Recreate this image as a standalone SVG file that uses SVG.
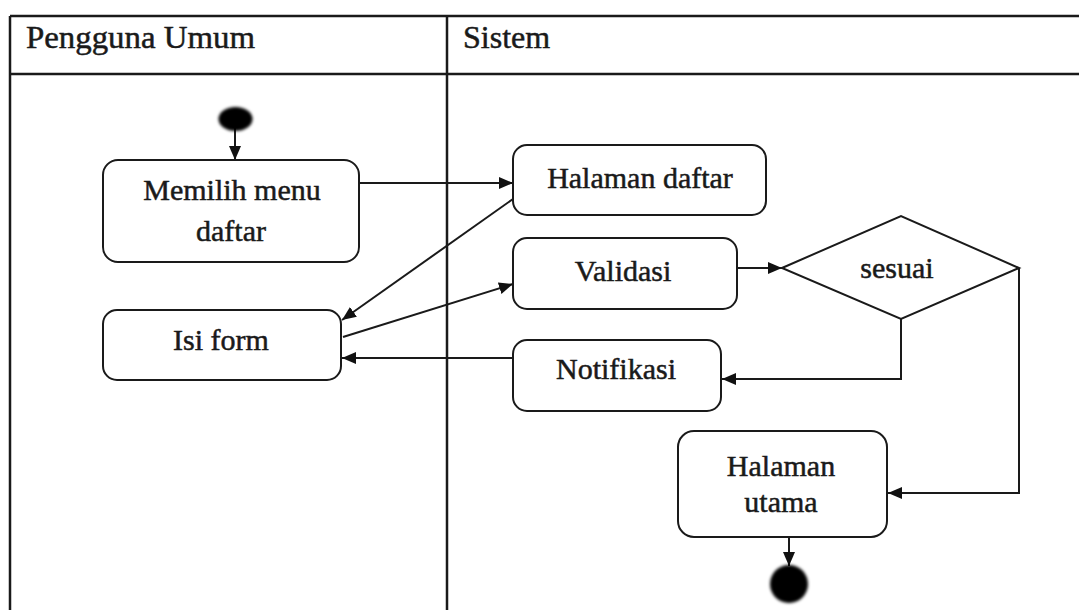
<svg xmlns="http://www.w3.org/2000/svg" width="1079" height="610" viewBox="0 0 1079 610">
<style>
.lane{stroke:#1a1a1a;stroke-width:2.5;fill:none}
.node{fill:#fff;stroke:#1a1a1a;stroke-width:2}
.t{font-family:"Liberation Serif","Times New Roman",serif;font-size:30px;fill:#1a1a1a;stroke:#1a1a1a;stroke-width:0.5;text-anchor:middle}
.h{font-family:"Liberation Serif","Times New Roman",serif;font-size:32px;fill:#1a1a1a;stroke:#1a1a1a;stroke-width:0.5}
.c{stroke:#1a1a1a;stroke-width:2;fill:none;marker-end:url(#ah)}
</style>
<defs>
<marker id="ah" markerUnits="userSpaceOnUse" markerWidth="14" markerHeight="12" refX="14" refY="6" orient="auto">
<path d="M0,0 L14,6 L0,12 z" fill="#111"/>
</marker>
<filter id="blur" x="-50%" y="-50%" width="200%" height="200%">
<feGaussianBlur stdDeviation="1.6"/>
</filter>
</defs>
<rect width="1079" height="610" fill="#fff"/>
<g id="swimlanes">
<line class="lane" x1="10" y1="16" x2="1079" y2="16"/>
<line class="lane" x1="10" y1="74" x2="1079" y2="74"/>
<line class="lane" x1="10" y1="16" x2="10" y2="610"/>
<line class="lane" x1="447" y1="16" x2="447" y2="610"/>
<text class="h" x="26" y="48" textLength="229" lengthAdjust="spacingAndGlyphs">Pengguna Umum</text>
<text class="h" x="463" y="48">Sistem</text>
</g>
<g id="connectors">
<line class="c" x1="235" y1="128" x2="235" y2="160"/>
<line class="c" x1="359" y1="183" x2="513" y2="183"/>
<line class="c" x1="513" y1="199" x2="342" y2="320"/>
<line class="c" x1="343" y1="337" x2="513" y2="284"/>
<line class="c" x1="737" y1="268" x2="782" y2="268"/>
<polyline class="c" points="901,319 901,379 722,379"/>
<line class="c" x1="513" y1="358" x2="342" y2="358"/>
<polyline class="c" points="1019,268 1019,493 888,493"/>
<line class="c" x1="789" y1="537" x2="789" y2="566"/>
</g>
<g id="start">
<ellipse cx="235.5" cy="119" rx="17" ry="12" fill="#000" filter="url(#blur)"/>
</g>
<g id="memilih">
<rect class="node" x="103" y="160" width="256" height="102" rx="15"/>
<text class="t" x="232" y="200">Memilih menu</text>
<text class="t" x="231" y="241">daftar</text>
</g>
<g id="isiform">
<rect class="node" x="103" y="310" width="238" height="70" rx="14"/>
<text class="t" x="221" y="350">Isi form</text>
</g>
<g id="halamandaftar">
<rect class="node" x="513" y="145" width="253" height="70" rx="14"/>
<text class="t" x="640" y="188">Halaman daftar</text>
</g>
<g id="validasi">
<rect class="node" x="513" y="238" width="224" height="71" rx="14"/>
<text class="t" x="623" y="281">Validasi</text>
</g>
<g id="sesuai">
<polygon class="node" points="782,268 901,216 1019,268 901,319"/>
<text class="t" x="897" y="278">sesuai</text>
</g>
<g id="notifikasi">
<rect class="node" x="513" y="340" width="208" height="71" rx="14"/>
<text class="t" x="616" y="379">Notifikasi</text>
</g>
<g id="halamanutama">
<rect class="node" x="678" y="431" width="209" height="106" rx="16"/>
<text class="t" x="781" y="476">Halaman</text>
<text class="t" x="781" y="512">utama</text>
</g>
<g id="end">
<circle cx="789" cy="584" r="19" fill="#000" filter="url(#blur)"/>
</g>
</svg>
